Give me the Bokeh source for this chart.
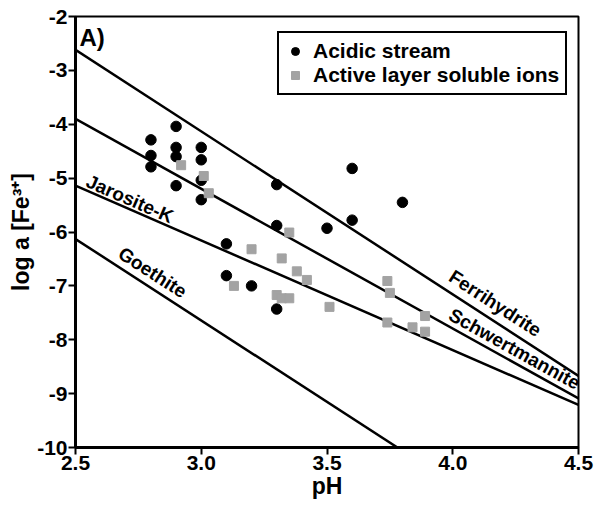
import math
from bokeh.plotting import figure
from bokeh.models import FixedTicker, PrintfTickFormatter, Label, Legend, LegendItem
from bokeh.embed import file_html
from bokeh.resources import INLINE

# ---- data ----
stream_ph = [2.90, 2.80, 2.90, 3.00, 2.90, 2.80, 3.00, 2.80, 2.90, 3.00, 3.00,
             3.30, 3.50, 3.60, 3.10, 3.10, 3.20, 3.30, 3.30, 3.60, 3.80]
stream_fe = [-4.04, -4.29, -4.43, -4.43, -4.60, -4.58, -4.66, -4.79, -5.14, -5.04, -5.40,
             -5.88, -5.93, -5.78, -6.22, -6.81, -7.00, -7.43, -5.12, -4.82, -5.45]

soil_ph = [2.92, 3.01, 3.03, 3.35, 3.20, 3.32, 3.38, 3.42, 3.13, 3.30,
           3.32, 3.35, 3.51, 3.74, 3.75, 3.74, 3.84, 3.89, 3.89]
soil_fe = [-4.76, -4.96, -5.28, -6.01, -6.32, -6.49, -6.73, -6.89, -7.00, -7.17,
           -7.23, -7.23, -7.39, -6.91, -7.13, -7.68, -7.77, -7.56, -7.85]

# mineral equilibrium lines (pH endpoints, log a endpoints)
ferri_ph = [2.5, 4.5]
ferri_fe = [-2.62, -8.67]
schw_ph = [2.5, 4.5]
schw_fe = [-3.90, -9.09]
jaro_ph = [2.5, 4.5]
jaro_fe = [-5.14, -9.21]
goet_ph = [2.5, 3.78]
goet_fe = [-6.13, -10.0]

x_ticks = [2.5, 3.0, 3.5, 4.0, 4.5]
y_ticks = [-10, -9, -8, -7, -6, -5, -4, -3, -2]
x_lo, x_hi = 2.5, 4.5
y_lo, y_hi = -10, -2

FONT = "Liberation Sans"
FW, FH = 503, 431

p = figure(frame_width=FW, frame_height=FH, output_backend="svg", toolbar_location=None,
           x_range=(x_lo, x_hi), y_range=(y_lo, y_hi),
           min_border_left=75, min_border_right=21, min_border_top=16, min_border_bottom=60)
p.grid.visible = False
p.background_fill_color = "white"
p.border_fill_color = "white"
p.outline_line_color = "black"
p.outline_line_width = 2

for ax in (p.xaxis[0], p.yaxis[0]):
    ax.axis_line_width = 3
    ax.major_tick_line_width = 2
    ax.major_tick_out = 7
    ax.major_tick_in = 0
    ax.minor_tick_out = 0
    ax.minor_tick_in = 0
    ax.major_label_text_font = FONT
    ax.major_label_text_font_style = "bold"
    ax.major_label_text_font_size = "21px"
    ax.major_label_text_color = "black"
    ax.axis_label_text_font = FONT
    ax.axis_label_text_font_style = "bold"
    ax.axis_label_text_font_size = "23px"
    ax.axis_label_text_color = "black"
    ax.major_label_standoff = 1
    ax.axis_label_standoff = 0

p.xaxis.ticker = FixedTicker(ticks=x_ticks)
p.xaxis.formatter = PrintfTickFormatter(format="%.1f")
p.yaxis.ticker = FixedTicker(ticks=y_ticks)
p.yaxis.formatter = PrintfTickFormatter(format="%d")
p.xaxis.axis_label = "pH"
p.yaxis.axis_label = "log a [Fe³⁺]"

lines = [(ferri_ph, ferri_fe), (schw_ph, schw_fe), (jaro_ph, jaro_fe), (goet_ph, goet_fe)]
for xs, ys in lines:
    p.line(xs, ys, line_color="black", line_width=2.5)

r_stream = p.scatter(stream_ph, stream_fe, marker="circle", size=10.5,
                     fill_color="black", line_color="black")
r_soil = p.scatter(soil_ph, soil_fe, marker="square", size=9,
                   fill_color="#a3a3a3", line_color="#a3a3a3")

legend = Legend(items=[LegendItem(label="Acidic stream", renderers=[r_stream]),
                       LegendItem(label="Active layer soluble ions", renderers=[r_soil])],
                location=(202, 352))
legend.border_line_color = "black"
legend.border_line_alpha = 1.0
legend.border_line_width = 2
legend.label_text_font = FONT
legend.label_text_font_style = "bold"
legend.label_text_font_size = "21px"
legend.label_text_color = "black"
legend.padding = 6
legend.spacing = 0
legend.label_height = 22
legend.glyph_height = 22
legend.glyph_width = 20
legend.label_standoff = 8
legend.margin = 0
legend.background_fill_alpha = 1
p.add_layout(legend)

# panel letter
p.add_layout(Label(x=x_lo, y=y_hi, x_offset=4, y_offset=-7, text="A)", text_color="black",
                   text_font=FONT, text_font_style="bold", text_font_size="24px",
                   text_baseline="top", text_align="left"))

# rotated line labels
def line_label(xs, ys, ph, text, yoff):
    slope = (ys[1] - ys[0]) / (xs[1] - xs[0])
    yv = ys[0] + slope * (ph - xs[0])
    ang = math.atan(slope * (FH / (y_hi - y_lo)) / (FW / (x_hi - x_lo)))
    p.add_layout(Label(x=ph, y=yv, y_offset=yoff, text=text, angle=ang, text_color="black",
                       text_font=FONT, text_font_style="bold", text_font_size="19px",
                       text_baseline="bottom", text_align="left"))

line_label(jaro_ph, jaro_fe, 2.53, "Jarosite-K", -1)
line_label(goet_ph, goet_fe, 2.655, "Goethite", 4)
line_label(ferri_ph, ferri_fe, 3.97, "Ferrihydrite", 6)
line_label(schw_ph, schw_fe, 3.97, "Schwertmannite", 2)

open("out.html", "w").write(file_html(p, INLINE))
